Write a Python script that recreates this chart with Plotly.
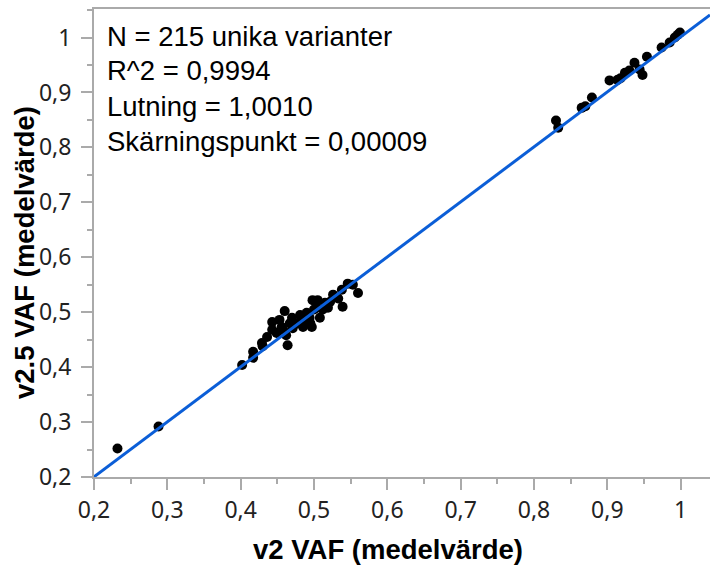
import plotly.graph_objects as go

# v2 VAF (x) vs v2.5 VAF (y), mean values
v2_vaf = [0.232, 0.288, 0.402, 0.417, 0.417, 0.429, 0.436, 0.443, 0.443, 0.449,
          0.453, 0.456, 0.458, 0.460, 0.464, 0.467, 0.470, 0.471, 0.477, 0.481,
          0.483, 0.485, 0.490, 0.494, 0.497, 0.498, 0.504, 0.505, 0.508, 0.515,
          0.519, 0.522, 0.526, 0.533, 0.538, 0.539, 0.546, 0.553, 0.560, 0.472,
          0.488, 0.500, 0.512, 0.430, 0.462, 0.495, 0.517,
          0.830, 0.833, 0.865, 0.870, 0.879, 0.903, 0.914, 0.918, 0.924, 0.930,
          0.937, 0.944, 0.948, 0.954, 0.974, 0.985, 0.992, 0.996, 0.999]
v25_vaf = [0.252, 0.292, 0.404, 0.428, 0.417, 0.444, 0.455, 0.468, 0.482, 0.462,
           0.486, 0.473, 0.468, 0.502, 0.440, 0.480, 0.490, 0.471, 0.480, 0.495,
           0.482, 0.473, 0.499, 0.490, 0.473, 0.522, 0.508, 0.522, 0.490, 0.517,
           0.508, 0.519, 0.532, 0.525, 0.541, 0.510, 0.552, 0.550, 0.535, 0.478,
           0.488, 0.505, 0.505, 0.438, 0.458, 0.480, 0.512,
           0.849, 0.836, 0.872, 0.875, 0.891, 0.922, 0.923, 0.926, 0.936, 0.940,
           0.954, 0.942, 0.932, 0.965, 0.982, 0.991, 1.000, 1.005, 1.009]

slope = 1.0010
intercept = 0.00009
fit_x = [0.2, 1.04]
fit_y = [slope * v + intercept for v in fit_x]

stats_lines = ["N = 215 unika varianter", "R^2 = 0,9994", "Lutning = 1,0010",
               "Skärningspunkt = 0,00009"]
x_title = "v2 VAF (medelvärde)"
y_title = "v2.5 VAF (medelvärde)"

W, H = 710, 568
L, R, T, B = 94, 0, 9, 91
PW, PH = W - L - R, H - T - B

fig = go.Figure()
fig.add_trace(go.Scatter(x=v2_vaf, y=v25_vaf, mode="markers",
                         marker=dict(color="black", size=10), showlegend=False))
fig.add_trace(go.Scatter(x=fit_x, y=fit_y, mode="lines",
                         line=dict(color="#0b5ed7", width=3), showlegend=False))

tick_font = dict(family="Noto Sans, Open Sans, sans-serif", size=23, color="#222")
title_font = dict(family="Liberation Sans, Arial, sans-serif", size=27.5, color="black")

axis_common = dict(dtick=0.1, tick0=0.2, ticks="outside", ticklen=11,
                   tickcolor="#aaa", tickwidth=2, showline=True, linecolor="#aaa",
                   linewidth=2, showgrid=False, zeroline=False, tickfont=tick_font,
                   automargin=False,
                   minor=dict(dtick=0.05, ticks="outside", ticklen=5, tickcolor="#aaa",
                              tickwidth=2, showgrid=False))

fig.update_layout(
    width=W, height=H,
    margin=dict(l=L, r=R, t=T, b=B),
    paper_bgcolor="white", plot_bgcolor="white",
    separators=", ",
    xaxis=dict(range=[0.2, 1.04], mirror=True, **axis_common),
    yaxis=dict(range=[0.2, 1.052], ticklabelstandoff=5, **axis_common),
)

def px_x(p):
    return (p - L) / PW

def px_y(p):
    return 1 - (p - T) / PH

for i, txt in enumerate(stats_lines):
    ypx = 36 + i * 35
    fig.add_annotation(text=txt, xref="paper", yref="paper",
                       x=px_x(105), y=px_y(ypx),
                       xanchor="left", yanchor="middle", showarrow=False,
                       font=dict(family="Liberation Sans, Arial, sans-serif", size=27.5,
                                 color="black"))

fig.add_annotation(text="<b>" + x_title + "</b>", xref="paper", yref="paper",
                   x=px_x(388), y=px_y(549), xanchor="center", yanchor="middle",
                   showarrow=False, font=title_font)
fig.add_annotation(text="<b>" + y_title + "</b>", xref="paper", yref="paper",
                   x=px_x(24), y=px_y(253), xanchor="center", yanchor="middle",
                   textangle=-90, showarrow=False, font=title_font)

fig.write_html("out.html", config={"displayModeBar": False},
               post_script="document.body.style.margin='0';document.body.style.padding='0';")
